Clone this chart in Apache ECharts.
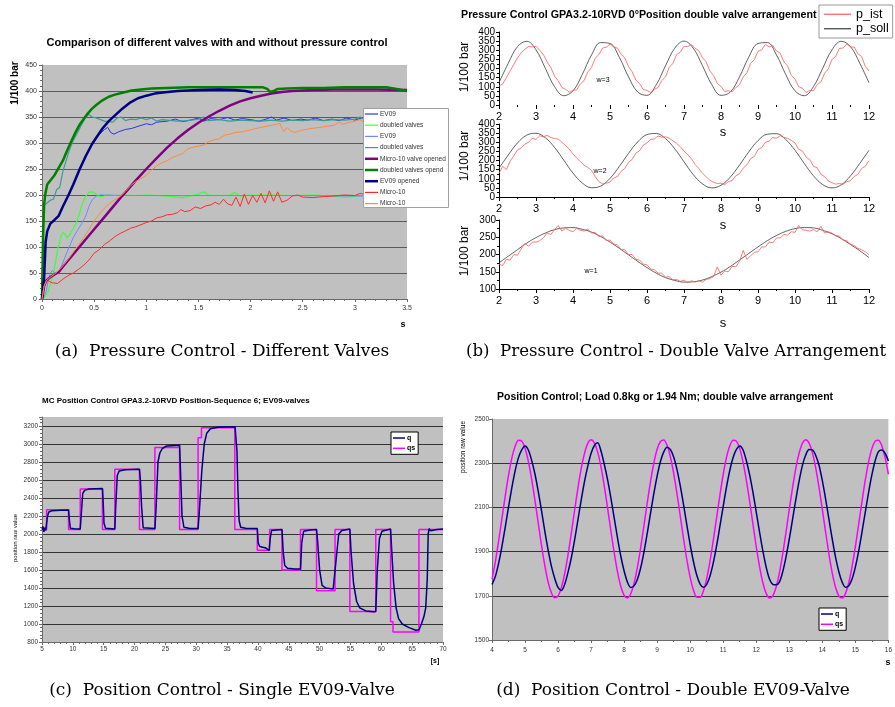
<!DOCTYPE html>
<html><head><meta charset="utf-8">
<script src="https://cdn.jsdelivr.net/npm/echarts/dist/echarts.min.js"></script>
<style>html,body{margin:0;padding:0;background:#fff}#c{width:895px;height:707px}</style>
</head><body><div id="c"></div>
<script>
// ================= DATA =================
// (a) pressure step responses [time s, 1/100 bar]
const aEV09 = [[0,0],[0.02,40],[0.035,110],[0.05,130],[0.08,145],[0.12,152],[0.16,160],[0.2,178],[0.25,198],[0.3,220],[0.36,249],[0.42,275],[0.48,298],[0.54,315],[0.6,326],[0.63,330],[0.66,320],[0.69,317],[0.74,322],[0.8,326],[0.86,328],[0.92,332],[1.0,337],[1.05,335],[1.1,340],[1.2,342],[1.28,346],[1.35,341],[1.42,344],[1.5,348],[1.55,342],[1.62,347],[1.7,345],[1.78,349],[1.85,344],[1.92,347],[2.0,345],[2.08,342],[2.15,346],[2.2,350],[2.25,344],[2.32,348],[2.4,343],[2.48,346],[2.55,344],[2.62,348],[2.7,343],[2.78,346],[2.85,343],[2.92,348],[3.0,344],[3.08,349],[3.15,343],[3.22,347],[3.3,344],[3.38,348],[3.45,345],[3.5,346]];
const aDoubled1 = [[0,0],[0.03,5],[0.06,15],[0.09,35],[0.12,60],[0.15,95],[0.18,120],[0.2,128],[0.22,125],[0.24,118],[0.27,125],[0.3,135],[0.33,148],[0.36,165],[0.39,185],[0.42,198],[0.45,205],[0.48,206],[0.51,203],[0.54,198],[0.58,197],[0.62,200],[0.7,199],[0.8,200],[0.9,199],[1.0,200],[1.1,199],[1.2,198],[1.3,196],[1.35,195],[1.4,197],[1.5,202],[1.55,206],[1.6,200],[1.7,199],[1.8,200],[1.85,205],[1.9,198],[2.0,200],[2.2,200],[2.4,199],[2.6,200],[2.8,198],[2.9,195],[3.0,198],[3.2,200],[3.5,199]];
const aEV09b = [[0,0],[0.02,5],[0.04,15],[0.06,35],[0.08,50],[0.1,55],[0.12,50],[0.15,48],[0.18,60],[0.22,80],[0.26,100],[0.3,118],[0.34,132],[0.38,145],[0.42,160],[0.45,178],[0.48,190],[0.52,198],[0.56,200],[0.6,200],[0.8,199],[1.0,199],[1.5,199],[2.0,199],[2.5,199],[3.0,198],[3.5,198]];
const aDoubled2 = [[0,0],[0.01,100],[0.02,180],[0.05,185],[0.08,190],[0.11,192],[0.14,210],[0.17,215],[0.2,245],[0.23,265],[0.26,285],[0.3,305],[0.34,320],[0.38,335],[0.42,350],[0.45,355],[0.48,350],[0.52,348],[0.56,345],[0.6,342],[0.64,341],[0.68,340],[0.72,348],[0.76,350],[0.8,343],[0.85,346],[0.9,345],[0.95,348],[1.0,345],[1.05,348],[1.1,342],[1.15,345],[1.2,344],[1.3,342],[1.4,343],[1.5,346],[1.55,350],[1.6,343],[1.7,345],[1.8,342],[1.9,344],[2.0,343],[2.1,342],[2.2,344],[2.3,342],[2.4,344],[2.5,343],[2.6,345],[2.7,343],[2.8,345],[2.9,344],[3.0,346],[3.05,350],[3.1,344],[3.2,343],[3.3,345],[3.4,342],[3.5,340]];
const aMicroOpened = [[0,0],[0.02,25],[0.04,35],[0.08,42],[0.12,47],[0.16,52],[0.2,62],[0.25,74],[0.3,86],[0.35,98],[0.4,110],[0.45,122],[0.5,134],[0.55,146],[0.6,158],[0.65,170],[0.7,182],[0.75,194],[0.8,205],[0.9,228],[1.0,250],[1.1,271],[1.2,291],[1.3,309],[1.4,325],[1.5,339],[1.6,351],[1.7,362],[1.8,372],[1.9,380],[2.0,386],[2.1,391],[2.2,395],[2.3,398],[2.4,400],[2.6,402],[2.8,403],[3.0,403],[3.2,403],[3.5,402]];
const aDoubledOpend = [[0,0],[0.01,120],[0.02,180],[0.03,200],[0.05,220],[0.08,228],[0.12,238],[0.16,252],[0.2,266],[0.24,285],[0.28,303],[0.32,320],[0.36,335],[0.4,346],[0.44,357],[0.48,366],[0.52,373],[0.58,382],[0.64,389],[0.7,393],[0.78,397],[0.86,401],[0.95,403],[1.05,405],[1.2,406],[1.4,407],[1.6,407],[1.8,407],[2.0,407],[2.12,407],[2.16,404],[2.19,398],[2.22,400],[2.26,404],[2.35,405],[2.5,406],[2.7,406],[2.9,407],[3.1,407],[3.3,407],[3.4,404],[3.5,400]];
const aEV09Opened = [[0,0],[0.02,40],[0.035,110],[0.05,130],[0.08,145],[0.12,152],[0.16,160],[0.2,178],[0.25,198],[0.3,220],[0.36,249],[0.42,275],[0.48,298],[0.52,310],[0.58,328],[0.64,342],[0.7,353],[0.77,366],[0.84,377],[0.92,386],[1.0,391],[1.08,395],[1.16,397],[1.3,400],[1.5,402],[1.7,403],[1.85,402],[1.95,400],[2.02,397]];
const aMicro1 = [[0,0],[0.02,25],[0.04,33],[0.06,35],[0.1,31],[0.15,30],[0.2,38],[0.25,45],[0.3,50],[0.35,57],[0.4,65],[0.45,75],[0.5,88],[0.55,95],[0.6,105],[0.65,112],[0.7,120],[0.75,126],[0.8,131],[0.85,136],[0.9,139],[0.95,143],[1.0,147],[1.05,150],[1.1,156],[1.15,158],[1.2,162],[1.25,163],[1.3,166],[1.33,172],[1.37,168],[1.42,170],[1.47,177],[1.52,174],[1.57,179],[1.62,181],[1.66,186],[1.7,182],[1.74,192],[1.78,183],[1.82,180],[1.86,196],[1.9,178],[1.94,202],[1.98,182],[2.02,199],[2.06,186],[2.1,203],[2.14,185],[2.18,208],[2.22,188],[2.26,206],[2.3,186],[2.35,190],[2.4,198],[2.45,200],[2.5,196],[2.6,195],[2.7,197],[2.8,198],[2.9,200],[3.0,199],[3.05,203],[3.1,201],[3.2,204],[3.3,203],[3.4,204],[3.5,205]];
const aMicro2 = [[0,0],[0.02,25],[0.04,35],[0.08,42],[0.12,48],[0.16,55],[0.2,64],[0.25,76],[0.3,90],[0.35,104],[0.4,118],[0.45,134],[0.5,150],[0.55,163],[0.6,175],[0.65,184],[0.7,191],[0.75,197],[0.8,207],[0.85,218],[0.9,226],[0.95,232],[1.0,238],[1.05,248],[1.1,256],[1.15,262],[1.2,266],[1.25,272],[1.3,276],[1.35,280],[1.4,289],[1.45,292],[1.5,294],[1.55,296],[1.6,303],[1.65,306],[1.7,308],[1.75,315],[1.8,317],[1.85,320],[1.9,321],[2.0,325],[2.05,328],[2.1,330],[2.2,334],[2.25,336],[2.28,338],[2.3,328],[2.32,322],[2.35,330],[2.38,324],[2.42,320],[2.48,324],[2.55,327],[2.62,329],[2.7,331],[2.8,334],[2.85,340],[2.88,336],[2.95,340],[3.0,342],[3.05,345],[3.1,338],[3.15,343],[3.2,340],[3.3,346],[3.4,345],[3.5,344]];
const aLegendNames = ['EV09','doubled valves','EV09','doubled valves','Micro-10 valve opened','doubled valves opend','EV09 opened','Micro-10','Micro-10'];

// (b) pressure control, sampled from t = 2 s; p_soll every 0.25 s, p_ist every 0.1 s
const bStart = 2, bSollStep = 0.25, bIstStep = 0.1;
const bYTicks = [0,50,100,150,200,250,300,350,400];
const bSoll3 = [122,228,320,349,302,202,101,51,78,167,274,342,337,262,154,71,53,111,215,311,350,311,215,112,53,71,154,262,337,342,274,167,78,51,101,202,302,349,320,229,122];
const bIst3 = [104,116,150,186,222,258,286,306,320,318,322,300,276,236,206,158,134,96,86,70,80,84,116,134,180,206,256,276,312,316,334,318,312,278,258,210,182,136,118,84,80,68,86,96,134,154,206,228,276,290,322,320,332,310,298,258,236,186,162,118,102,74,78,72,96,110,154,176,228,248,294,302,332,318,326,296,284,236,214,162,142,100,92,68,80,78,112,126,174,198,250,266,310,312,334,318,318,280,266,212,186];
const bSoll2 = [158,230,296,339,349,325,272,202,131,77,51,60,102,167,239,302,342,348,320,264,193,123,72,50,64,109,175,247,309,344,347,315,256,184,116,68,50,67,116,184,256];
const bIst2 = [130,168,150,196,226,258,268,290,300,322,316,336,330,338,326,320,318,300,282,262,236,214,194,174,162,146,112,84,72,76,82,104,112,140,156,190,206,240,254,284,296,316,318,334,328,330,322,308,294,276,252,232,210,178,156,130,110,92,80,74,76,68,84,90,116,128,158,176,210,222,260,270,300,306,326,322,336,326,322,310,296,262,252,218,204,168,160,124,112,88,78,70,74,70,84,90,112,124,156,168,200];
const bSoll1 = [176,195,214,233,249,262,272,277,278,273,265,252,236,218,199,180,162,146,133,125,120,121,126,136,149,165,184,203,222,240,255,267,275,278,277,270,260,246,229,211,191];
const bIst1 = [172,168,186,184,200,198,216,232,224,236,236,240,248,262,258,272,284,268,276,270,266,276,270,268,274,262,264,252,254,240,242,230,228,214,214,200,200,186,184,172,170,158,156,146,146,134,136,126,128,122,126,118,124,120,124,120,128,130,136,164,140,152,150,166,164,180,212,186,196,206,208,222,222,236,234,248,248,258,256,266,264,284,272,270,268,272,266,282,262,266,262,254,254,242,240,230,226,218,214,208,200];

// (c) position sequence [time s, raw value]
const cQ = [[5,2050],[5.15,2085],[5.3,2025],[5.45,2070],[5.6,2040],[5.75,2060],[5.9,2200],[6.1,2245],[6.6,2258],[8,2265],[9.3,2268],[9.45,2150],[9.6,2065],[10.2,2058],[11.2,2055],[11.35,2200],[11.6,2450],[11.9,2485],[12.6,2500],[14.8,2505],[14.95,2300],[15.05,2120],[15.3,2065],[16.8,2055],[16.95,2300],[17.2,2650],[17.5,2700],[18.5,2715],[20.8,2720],[20.95,2600],[21.15,2300],[21.4,2070],[23.3,2060],[23.5,2300],[23.8,2800],[24.1,2900],[24.5,2950],[25.2,2978],[27.3,2985],[27.45,2700],[27.7,2200],[28.0,2075],[29,2062],[30.3,2060],[30.55,2300],[30.9,2700],[31.3,3000],[31.7,3120],[32.3,3170],[33.5,3185],[36.3,3192],[36.45,3050],[36.6,2930],[36.75,2500],[36.95,2150],[37.2,2075],[38,2065],[39.9,2060],[40.05,1900],[40.3,1860],[41.3,1845],[41.8,1815],[42.0,1950],[42.2,2040],[43.9,2050],[44.1,1800],[44.35,1650],[44.8,1620],[46,1612],[46.9,1610],[47.1,1900],[47.4,2030],[48.5,2045],[49.5,2050],[49.7,1900],[50.0,1600],[50.4,1430],[51,1400],[52.2,1390],[52.5,1395],[52.8,1800],[53.1,2000],[53.6,2040],[54.9,2055],[55.1,1800],[55.5,1450],[56.0,1250],[56.5,1180],[57.5,1145],[58.7,1135],[59.1,1140],[59.35,1600],[59.7,1950],[60.1,2030],[61.5,2055],[61.7,1800],[62.0,1450],[62.4,1180],[62.8,1060],[63.4,1000],[64.5,960],[65.6,930],[66.1,935],[66.5,1000],[66.9,1080],[67.2,1180],[67.45,1500],[67.6,2000],[67.75,2060],[68,2035],[69,2050],[70,2055]];
const cQs = [[5,2050],[5.75,2270],[9.3,2050],[11.2,2500],[14.8,2050],[16.8,2720],[20.8,2050],[23.3,2960],[27.3,2050],[30.3,3070],[30.85,3180],[36.25,2050],[39.9,1820],[41.9,2050],[43.9,1600],[46.9,2050],[49.5,1370],[52.5,2050],[54.9,1140],[59.1,2050],[61.5,1025],[61.9,910],[66.1,2050],[70,2050]];

// (d) sinusoidal position control, sampled every 0.1 s from t = 4 s
const dStart = 4, dStep = 0.1;
const dQs = [1775,1853,1947,2049,2151,2245,2323,2377,2404,2401,2368,2309,2228,2132,2029,1927,1836,1762,1713,1691,1699,1737,1800,1884,1982,2086,2186,2275,2344,2390,2406,2392,2350,2283,2196,2096,1993,1894,1808,1742,1702,1690,1709,1756,1827,1917,2018,2121,2218,2301,2363,2398,2405,2381,2329,2254,2162,2060,1957,1862,1782,1725,1694,1693,1722,1778,1857,1952,2054,2156,2250,2326,2379,2404,2400,2366,2305,2223,2127,2024,1922,1832,1759,1711,1690,1700,1739,1803,1889,1987,2091,2190,2279,2347,2391,2406,2391,2348,2279,2191,2091,1988,1889,1804,1739,1700,1690,1710,1759,1831,1922,2023,2126,2223,2305,2366,2400,2404,2379,2326,2250];
const dQ = [1751,1787,1847,1923,2010,2101,2188,2265,2324,2360,2378,2360,2313,2251,2172,2084,1992,1907,1833,1778,1738,1724,1752,1806,1871,1952,2042,2133,2217,2287,2345,2380,2392,2355,2294,2225,2142,2052,1962,1879,1812,1762,1738,1745,1774,1826,1898,1983,2074,2163,2243,2308,2351,2372,2362,2328,2271,2197,2111,2020,1931,1854,1793,1753,1739,1752,1790,1850,1927,2015,2105,2193,2268,2326,2362,2378,2360,2311,2247,2168,2079,1988,1903,1830,1776,1752,1750,1762,1808,1875,1957,2047,2137,2221,2291,2338,2362,2360,2335,2291,2221,2138,2047,1957,1875,1809,1762,1739,1745,1776,1830,1902,1988,2078,2167,2247,2311,2352,2360,2345,2310];

// ================= CHART =================
const SANS = '"Liberation Sans", Arial, sans-serif';
const SERIF = '"DejaVu Serif", "Liberation Serif", serif';
const sampled = (t0, dt, vals) => vals.map((v, i) => [+(t0 + i * dt).toFixed(3), v]);
const plain = v => String(v);

const grids = [
  {left: 42, top: 65, width: 365, height: 234, show: true, backgroundColor: '#c0c0c0', borderWidth: 0},
  {left: 499, top: 32, width: 370, height: 73},
  {left: 499, top: 124, width: 370, height: 73},
  {left: 499, top: 220, width: 370, height: 69},
  {left: 42, top: 417, width: 401, height: 225, show: true, backgroundColor: '#c0c0c0', borderWidth: 0},
  {left: 492, top: 419, width: 401, height: 221, show: true, backgroundColor: '#c0c0c0', borderWidth: 0}
];

function excelX(gi, min, max, interval, minorSplit, fs, margin) {
  return {gridIndex: gi, type: 'value', min, max, interval,
    axisLine: {show: true, onZero: false, lineStyle: {color: '#6a6a6a', width: 1}},
    axisTick: {show: true, length: 3, lineStyle: {color: '#6a6a6a'}},
    minorTick: {show: true, splitNumber: minorSplit, length: 2, lineStyle: {color: '#6a6a6a'}},
    axisLabel: {fontSize: fs, color: '#333', margin, fontFamily: SANS, formatter: plain},
    splitLine: {show: false}};
}
function excelY(gi, min, max, interval, minorSplit, fs, margin, gridColor) {
  return {gridIndex: gi, type: 'value', min, max, interval,
    axisLine: {show: true, onZero: false, lineStyle: {color: '#6a6a6a', width: 1}},
    axisTick: {show: true, length: 3, lineStyle: {color: '#6a6a6a'}},
    minorTick: {show: minorSplit > 0, splitNumber: minorSplit || 5, length: 2, lineStyle: {color: '#6a6a6a'}},
    axisLabel: {fontSize: fs, color: '#333', margin, fontFamily: SANS, formatter: plain,
      showMinLabel: true, showMaxLabel: (max - min) % interval === 0},
    splitLine: {show: true, showMaxLine: false, showMinLine: false, lineStyle: {color: gridColor, width: 1}}};
}
function originX(gi, showLine) {
  return {gridIndex: gi, type: 'value', min: 2, max: 12, interval: 1,
    axisLine: {show: showLine, onZero: false, lineStyle: {color: '#000', width: 1}},
    axisTick: {show: true, length: 4, lineStyle: {color: '#000'}},
    minorTick: {show: true, splitNumber: 2, length: 2, lineStyle: {color: '#000'}},
    axisLabel: {fontSize: 11, color: '#000', margin: 6, fontFamily: SANS,
      showMinLabel: true, showMaxLabel: true, hideOverlap: false},
    splitLine: {show: false}};
}
function originY(gi, min, max, showLabels) {
  return {gridIndex: gi, type: 'value', min, max, interval: 50,
    axisLine: {show: true, onZero: false, lineStyle: {color: '#000', width: 1}},
    axisTick: {show: true, length: 3, lineStyle: {color: '#000'}},
    minorTick: {show: true, splitNumber: 2, length: 2, lineStyle: {color: '#000'}},
    axisLabel: {show: showLabels, fontSize: 10, color: '#000', margin: 3, fontFamily: SANS,
      showMinLabel: true, showMaxLabel: true, hideOverlap: false},
    splitLine: {show: false}};
}

const xAxes = [
  excelX(0, 0, 3.5, 0.5, 5, 7, 6),
  originX(1, false), originX(2, true), originX(3, true),
  excelX(4, 5, 70, 5, 5, 6.5, 4),
  excelX(5, 4, 16, 1, 2, 6.5, 7)
];
const yAxes = [
  excelY(0, 0, 450, 50, 5, 7, 5, '#5a5a5a'),
  originY(1, 0, 400, false), originY(2, 0, 400, false), originY(3, 100, 300, true),
  excelY(4, 800, 3300, 200, 5, 6.5, 4, '#333'),
  excelY(5, 1500, 2500, 200, 0, 6.5, 3, '#333')
];

function line(name, gi, data, color, width, extra) {
  return Object.assign({type: 'line', name, xAxisIndex: gi, yAxisIndex: gi, data,
    symbol: 'none', showSymbol: false, animation: false,
    lineStyle: {color, width}, itemStyle: {color}}, extra || {});
}

const aStyles = [['#2a35e0', 1], ['#3cff3c', 1.2], ['#6a8cff', 1], ['#3f9a98', 1.2], ['#800080', 2.5],
                 ['#008000', 2.5], ['#000080', 2.5], ['#ff2a2a', 1], ['#ff8a3c', 1]];
const aData = [aEV09, aDoubled1, aEV09b, aDoubled2, aMicroOpened, aDoubledOpend, aEV09Opened, aMicro1, aMicro2];

const series = aData.map((d, i) => line('a' + i, 0, d, aStyles[i][0], aStyles[i][1])).concat([
  line('p_soll', 1, sampled(bStart, bSollStep, bSoll3), '#3a3a3a', 0.8, {smooth: 0.4}),
  line('p_ist', 1, sampled(bStart, bIstStep, bIst3), '#ff5a5a', 0.8),
  line('p_soll', 2, sampled(bStart, bSollStep, bSoll2), '#3a3a3a', 0.8, {smooth: 0.4}),
  line('p_ist', 2, sampled(bStart, bIstStep, bIst2), '#ff5a5a', 0.8),
  line('p_soll', 3, sampled(bStart, bSollStep, bSoll1), '#3a3a3a', 0.8, {smooth: 0.4}),
  line('p_ist', 3, sampled(bStart, bIstStep, bIst1), '#ff5a5a', 0.8),

  line('qs', 4, cQs, '#ff00ff', 1.5, {step: 'end'}),
  line('q', 4, cQ, '#000080', 1.5),

  line('qs', 5, sampled(dStart, dStep, dQs), '#ff00ff', 1.5, {smooth: 0.3}),
  line('q', 5, sampled(dStart, dStep, dQ), '#000080', 1.5, {smooth: 0.3})
]);

const legends = [
  {left: 819, top: 5, orient: 'vertical', data: ['p_ist', 'p_soll'], icon: 'rect',
   itemWidth: 27, itemHeight: 1.2, itemGap: 0, selectedMode: false,
   textStyle: {fontSize: 12.5, lineHeight: 14.5, color: '#000', fontFamily: SANS},
   backgroundColor: '#fff', borderColor: '#999', borderWidth: 1, padding: [2, 4, 2, 5]},
  {left: 391, top: 432, orient: 'vertical', data: ['q', 'qs'], icon: 'rect',
   itemWidth: 12, itemHeight: 1.5, itemGap: 2.3, selectedMode: false,
   textStyle: {fontSize: 7, lineHeight: 8, fontWeight: 'bold', color: '#000', fontFamily: SANS, padding: [0, 0, 0, -3]},
   backgroundColor: '#fff', borderColor: '#000', borderWidth: 1, padding: [2, 3, 2, 2]},
  {left: 819, top: 608, orient: 'vertical', data: ['q', 'qs'], icon: 'rect',
   itemWidth: 12, itemHeight: 1.5, itemGap: 2.3, selectedMode: false,
   textStyle: {fontSize: 7, lineHeight: 8, fontWeight: 'bold', color: '#000', fontFamily: SANS, padding: [0, 0, 0, -3]},
   backgroundColor: '#fff', borderColor: '#000', borderWidth: 1, padding: [2, 3, 2, 2]}
];

function txt(text, x, y, font, opts) {
  opts = opts || {};
  return {type: 'text', x, y, rotation: opts.rot || 0, silent: true, z: 100,
    style: {text, font, fill: opts.fill || '#000', align: opts.align || 'center', verticalAlign: 'middle'}};
}
const R = Math.PI / 2;

// legend box for panel (a), built from the series styles
const aLegendBox = {x: 363, y: 108, w: 85, h: 99, row0: 114, rowStep: 11.2};
const aLegend = [{type: 'rect', z: 90, silent: true,
  shape: {x: aLegendBox.x + 0.5, y: aLegendBox.y + 0.5, width: aLegendBox.w, height: aLegendBox.h},
  style: {fill: '#fff', stroke: '#a0a0a0', lineWidth: 1}}];
aLegendNames.forEach((n, i) => {
  const y = aLegendBox.row0 + i * aLegendBox.rowStep;
  aLegend.push({type: 'line', z: 95, silent: true, shape: {x1: 365, y1: y, x2: 378, y2: y},
    style: {stroke: aStyles[i][0], lineWidth: Math.max(aStyles[i][1], 1.2)}});
  aLegend.push(txt(n, 380, y, '6.5px ' + SANS, {align: 'left', fill: '#333'}));
});

const graphics = aLegend.concat([
  txt('Comparison of different valves with and without pressure control', 217, 43, 'bold 11px ' + SANS),
  txt('1/100 bar', 15, 83, 'bold 10px ' + SANS, {rot: R}),
  txt('s', 403, 325, 'bold 9px ' + SANS),

  txt('Pressure Control GPA3.2-10RVD 0°Position double valve arrangement', 461, 15, 'bold 10.7px ' + SANS, {align: 'left'}),
  txt('w=3', 603, 80, '7px ' + SANS),
  txt('w=2', 600, 171, '7px ' + SANS),
  txt('w=1', 591, 271, '7px ' + SANS),
  txt('1/100 bar', 465, 67, '12px ' + SANS, {rot: R}),
  txt('1/100 bar', 465, 156, '12px ' + SANS, {rot: R}),
  txt('1/100 bar', 465, 251, '12px ' + SANS, {rot: R}),
  txt('s', 723, 132, '13px ' + SANS),
  txt('s', 723, 225, '13px ' + SANS),
  txt('s', 723, 323, '13px ' + SANS),

  txt('MC Position Control GPA3.2-10RVD Position-Sequence 6; EV09-valves', 42, 401, 'bold 8px ' + SANS, {align: 'left'}),
  txt('position raw value', 15, 538, '6px ' + SANS, {rot: R}),
  txt('[s]', 435, 661, 'bold 7px ' + SANS),

  txt('Position Control; Load 0.8kg or 1.94 Nm; double valve arrangement', 497, 397, 'bold 10.5px ' + SANS, {align: 'left'}),
  txt('position raw value', 463, 447, '6.5px ' + SANS, {rot: R}),
  txt('s', 888, 663, 'bold 9px ' + SANS),

  txt('(a)  Pressure Control - Different Valves', 222, 352, '17px ' + SERIF),
  txt('(b)  Pressure Control - Double Valve Arrangement', 676, 352, '16.6px ' + SERIF),
  txt('(c)  Position Control - Single EV09-Valve', 222, 691, '17px ' + SERIF),
  txt('(d)  Position Control - Double EV09-Valve', 673, 691, '17px ' + SERIF)
]);

const chart = echarts.init(document.getElementById('c'), null, {renderer: 'canvas'});
chart.setOption({
  animation: false,
  backgroundColor: '#fff',
  grid: grids,
  xAxis: xAxes,
  yAxis: yAxes,
  legend: legends,
  series,
  graphic: graphics
});

// densely packed y tick labels of the two upper (b) panels, positioned through the axis scale
const bLabels = [];
[1, 2].forEach(gi => bYTicks.forEach(v => {
  const p = chart.convertToPixel({gridIndex: gi}, [bStart, v]);
  bLabels.push(txt(String(v), p[0] - 4, p[1], '10px ' + SANS, {align: 'right'}));
}));
chart.setOption({graphic: graphics.concat(bLabels)});
</script></body></html>
